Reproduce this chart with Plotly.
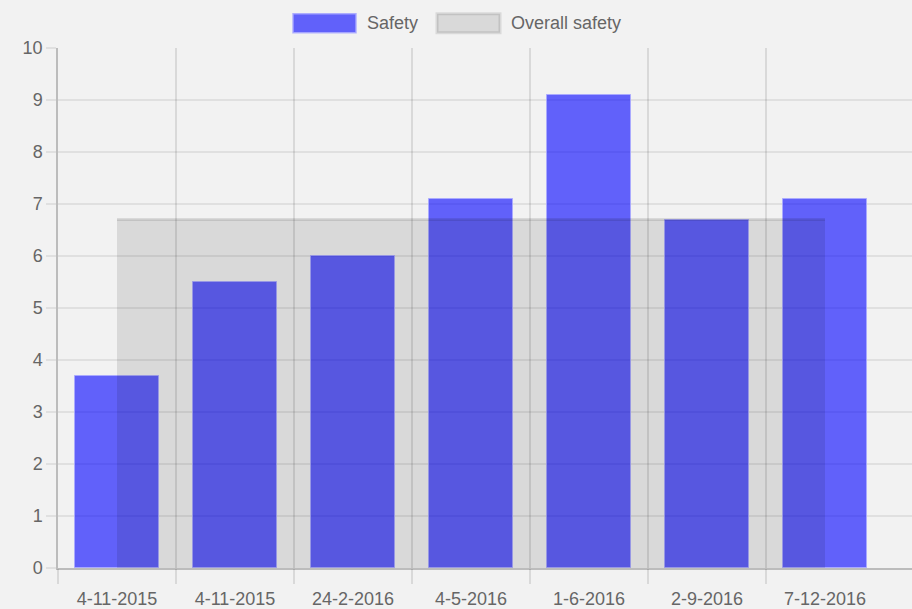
import plotly.graph_objects as go

labels = ["4-11-2015", "4-11-2015", "24-2-2016", "4-5-2016", "1-6-2016", "2-9-2016", "7-12-2016"]
safety = [3.7, 5.5, 6.0, 7.1, 9.1, 6.7, 7.1]
overall = [6.7, 6.7, 6.7, 6.7, 6.7, 6.7, 6.7]
y_ticks = [0, 1, 2, 3, 4, 5, 6, 7, 8, 9, 10]

xs = list(range(len(labels)))
bounds = [i - 0.5 for i in range(len(labels))]

FONT = "Liberation Sans, Arial, sans-serif"
TXT = "#666666"
GRID_H = "rgba(0,0,0,0.075)"
GRID_V = "rgba(0,0,0,0.1)"
BLUE = "rgba(0,0,255,0.6)"

fig = go.Figure()
fig.add_trace(go.Bar(
    x=xs, y=safety, name="Safety", width=0.712,
    marker=dict(color=BLUE, line=dict(color="rgba(170,170,255,0.9)", width=1)),
    showlegend=False,
))
fig.add_trace(go.Scatter(
    x=xs, y=overall, name="Overall safety", mode="lines",
    fill="tozeroy", fillcolor="rgba(0,0,0,0.1)",
    line=dict(color="rgba(0,0,0,0.1)", width=3),
    showlegend=False,
))
# invisible trace to carry the boundary grid axis
fig.add_trace(go.Scatter(x=[xs[0]], y=[0], xaxis="x2", mode="markers",
                         marker=dict(opacity=0), showlegend=False, hoverinfo="skip"))

H = 609
TOP = 47.5
BOT = 573
rng = [-0.5, 6.737]
fig.update_layout(
    width=912, height=H,
    paper_bgcolor="#f2f2f2", plot_bgcolor="#f2f2f2",
    margin=dict(l=58, r=0, t=TOP, b=H - BOT),
    font=dict(family=FONT, size=18, color=TXT),
    xaxis=dict(
        range=rng, tickvals=xs, ticktext=labels, showgrid=False, zeroline=False,
        ticks="outside", ticklen=14, tickcolor="rgba(0,0,0,0)",
        showline=True, linecolor="#bcbcbc", linewidth=1.5,
        tickfont=dict(family=FONT, size=18, color=TXT),
    ),
    xaxis2=dict(
        range=rng, overlaying="x", anchor="y", side="bottom",
        tickvals=bounds, showticklabels=False, showgrid=True, gridcolor=GRID_V, gridwidth=1.5,
        ticks="outside", ticklen=15, tickcolor=GRID_V, tickwidth=1.5, zeroline=False,
    ),
    yaxis=dict(
        range=[0, 10], tickvals=y_ticks, showgrid=True, gridcolor=GRID_H, gridwidth=1.5,
        ticks="outside", ticklen=10, tickcolor=GRID_H, tickwidth=1.5, zeroline=False,
        showline=True, linecolor="#bcbcbc", linewidth=1.5,
        tickfont=dict(family=FONT, size=18, color=TXT),
    ),
    bargap=0,
)

# legend drawn in Chart.js style
def px_x(p):
    return (p - 58) / 854.0

def px_y(p):
    return (BOT - p) / float(BOT - TOP)

fig.add_shape(type="rect", xref="paper", yref="paper",
              x0=px_x(293), x1=px_x(356), y0=px_y(32), y1=px_y(13),
              fillcolor=BLUE, line=dict(color="rgba(170,170,255,0.9)", width=1.5))
fig.add_shape(type="rect", xref="paper", yref="paper",
              x0=px_x(437), x1=px_x(500), y0=px_y(32), y1=px_y(13),
              fillcolor="rgba(0,0,0,0.1)", line=dict(color="rgba(0,0,0,0.1)", width=3))
fig.add_annotation(text="Safety", xref="paper", yref="paper", x=px_x(365), y=px_y(22.5),
                   xanchor="left", yanchor="middle", showarrow=False,
                   font=dict(family=FONT, size=18, color=TXT))
fig.add_annotation(text="Overall safety", xref="paper", yref="paper", x=px_x(509), y=px_y(22.5),
                   xanchor="left", yanchor="middle", showarrow=False,
                   font=dict(family=FONT, size=18, color=TXT))

fig.write_html(
    "out.html",
    config={"displayModeBar": False},
    post_script="document.body.style.margin='0';document.body.style.overflow='hidden';",
)
